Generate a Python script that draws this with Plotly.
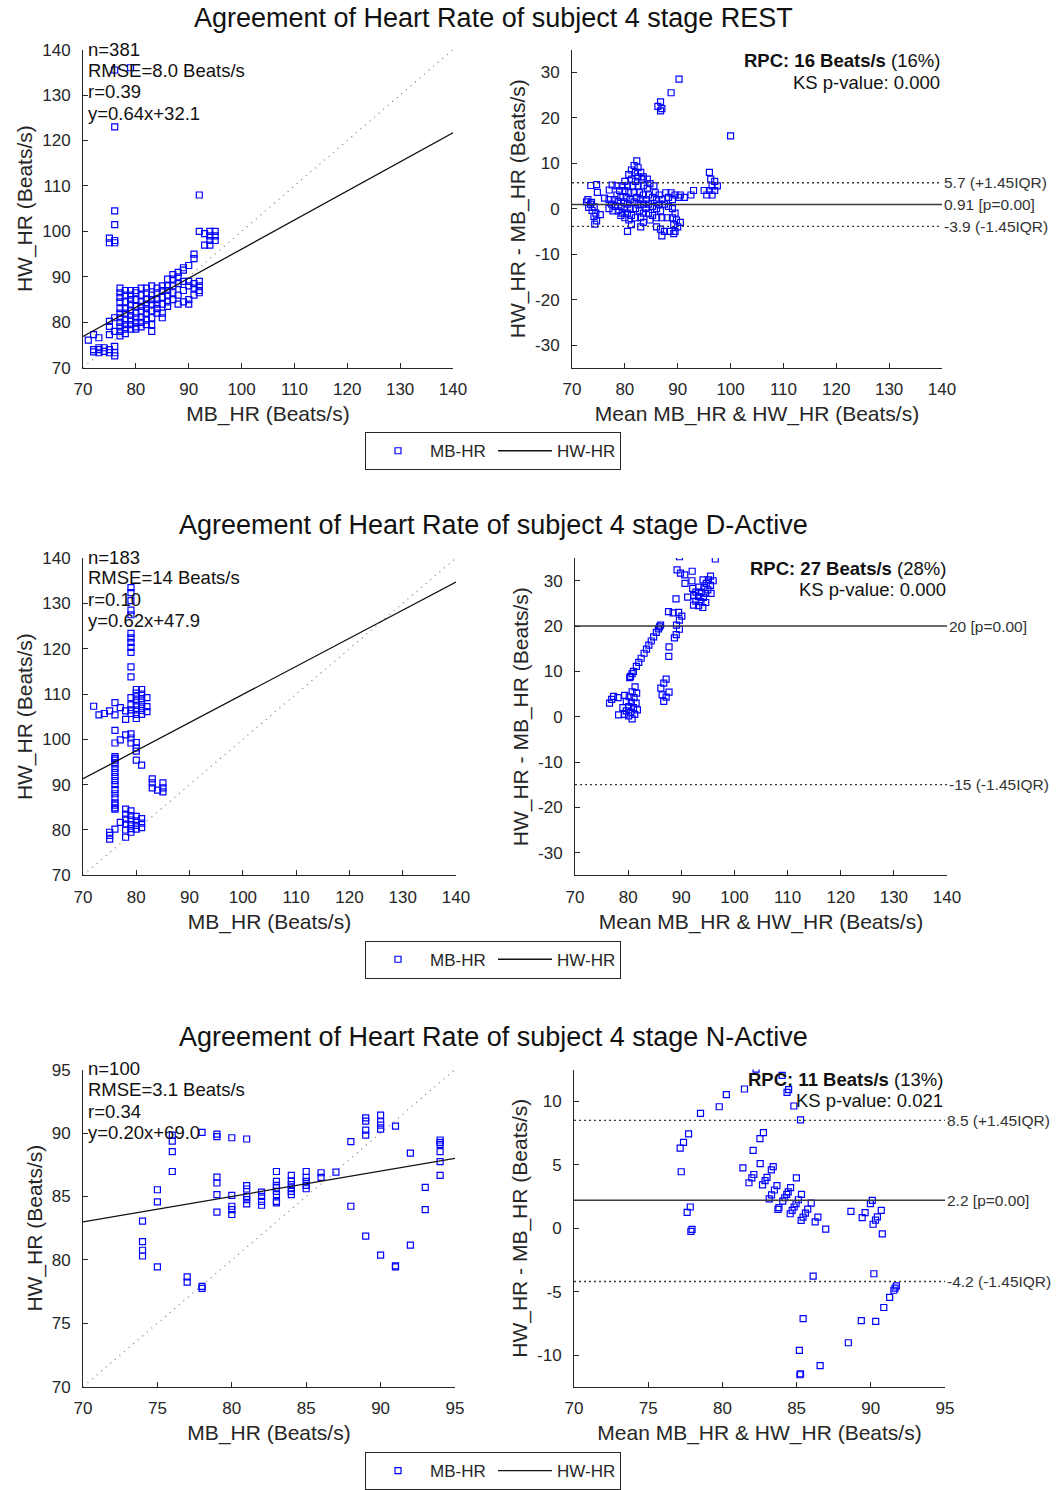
import numpy as np
import plotly.graph_objects as go

W, H = 1061, 1490

stages = ["REST", "D-Active", "N-Active"]

# ---------------- REST (MB_HR, HW_HR) ----------------
rest_mb = [
    71,
    72, 72, 72,
    73, 73, 73, 73,
    74, 74,
    75, 75, 75, 75, 75, 75, 75,
    76, 76, 76, 76, 76, 76, 76, 76, 76, 76, 76,
    77, 77, 77, 77, 77, 77, 77, 77, 77, 77, 77,
    78, 78, 78, 78, 78, 78, 78, 78, 78,
    79, 79, 79, 79, 79, 79, 79, 79, 79, 79,
    80, 80, 80, 80, 80, 80, 80, 80, 80,
    81, 81, 81, 81, 81, 81, 81, 81,
    82, 82, 82, 82, 82, 82, 82, 82,
    83, 83, 83, 83, 83, 83, 83, 83,
    84, 84, 84, 84, 84, 84,
    85, 85, 85, 85, 85, 85,
    86, 86, 86, 86, 86, 86,
    87, 87, 87, 87, 87,
    88, 88, 88, 88, 88,
    89, 89, 89, 89, 89,
    90, 90, 90, 90, 90,
    91, 91, 91, 91, 91,
    92, 92, 92, 92, 92, 92,
    93, 93,
    94, 94, 94, 94,
    95, 95, 95,
]
rest_hw = [
    76.1,
    77.3, 74.0, 73.5,
    76.6, 74.4, 73.3, 74.0,
    74.4, 73.6,
    80.2, 79.1, 77.3, 74.0, 73.3, 97.5, 98.5,
    81.0, 78.0, 74.7, 73.3, 72.6, 97.5, 98.0, 101.5, 104.5, 123.0, 135.5,
    87.5, 86.5, 85.5, 84.5, 83.0, 82.0, 81.0, 80.0, 79.0, 78.0, 77.0,
    87.0, 86.0, 84.5, 83.0, 82.0, 80.5, 79.5, 78.5, 77.5,
    136.0, 87.0, 86.0, 85.0, 84.0, 82.5, 81.5, 80.5, 79.5, 78.5,
    87.0, 86.5, 85.0, 83.5, 82.0, 81.0, 80.0, 79.0, 78.5,
    87.5, 86.0, 84.5, 83.5, 82.5, 81.0, 80.0, 79.0,
    87.5, 86.5, 85.0, 84.0, 83.0, 82.0, 80.5, 79.5,
    88.0, 86.0, 85.0, 84.0, 82.5, 81.0, 79.5, 78.0,
    87.5, 86.5, 85.0, 84.0, 83.0, 82.0,
    88.0, 87.0, 85.5, 84.0, 82.0, 81.0,
    89.5, 88.0, 87.0, 86.0, 84.5, 83.5,
    90.5, 89.5, 88.0, 86.5, 85.0,
    91.0, 90.0, 88.5, 86.0, 84.0,
    92.0, 91.5, 89.0, 87.0, 84.5,
    92.5, 89.0, 88.0, 85.0, 84.0,
    95.0, 94.0, 88.5, 87.5, 86.0,
    108.0, 100.0, 89.0, 88.0, 87.0, 86.5,
    99.5, 97.0,
    100.0, 99.0, 98.0, 97.0,
    100.0, 99.0, 98.0,
]

# ---------------- D-Active ----------------
dact_mb = [
    72,
    73,
    74,
    75, 75, 75, 75,
    76, 76, 76, 76, 76, 76, 76, 76, 76, 76, 76, 76, 76, 76, 76, 76, 76, 76, 76, 76, 76,
    77, 77, 77,
    78, 78, 78, 78, 78, 78, 78, 78, 78,
    79, 79, 79, 79, 79, 79, 79, 79, 79, 79, 79, 79, 79, 79, 79, 79, 79, 79, 79, 79, 79, 79, 79, 79, 79,
    80, 80, 80, 80, 80, 80, 80, 80, 80, 80, 80, 80, 80, 80, 80, 80,
    81, 81, 81, 81, 81, 81, 81, 81, 81, 81, 81,
    82, 82, 82,
    83, 83, 83,
    84,
    85, 85, 85,
]
dact_hw = [
    107.3,
    105.4,
    105.7,
    106.3, 79.5, 78.8, 78.0,
    108.1, 105.4, 102.0, 99.2, 96.2, 95.8, 95.4, 94.6, 93.6, 92.7, 91.8, 90.9, 90.0, 88.9, 88.0, 87.1, 86.0, 85.5, 84.9, 84.6, 80.2,
    107.0, 99.9, 81.7,
    106.3, 104.4, 101.0, 84.6, 83.5, 82.4, 81.3, 80.0, 78.4,
    133.5, 132.4, 130.6, 128.5, 127.5, 123.4, 122.4, 121.4, 120.3, 119.2, 116.0, 113.8, 109.2, 107.6, 106.5, 105.7, 101.2, 100.3, 99.2, 84.2, 83.2, 82.2, 81.2, 80.3, 79.5,
    111.0, 110.2, 109.4, 108.5, 107.5, 106.5, 105.5, 104.6, 99.3, 98.1, 97.4, 95.4, 83.0, 82.0, 81.0, 80.2,
    111.0, 110.0, 109.0, 108.2, 107.3, 106.4, 105.5, 94.3, 82.5, 81.5, 80.5,
    109.2, 107.2, 106.1,
    91.3, 90.4, 89.3,
    88.8,
    90.4, 89.3, 88.4,
]

# ---------------- N-Active ----------------
nact_mb = [
    74, 74, 74, 74,
    75, 75, 75,
    76, 76, 76, 76,
    77, 77,
    78, 78, 78,
    79, 79, 79, 79, 79, 79,
    80, 80, 80, 80, 80,
    81, 81, 81, 81, 81, 81,
    82, 82, 82, 82,
    83, 83, 83, 83, 83, 83, 83, 83,
    84, 84, 84, 84, 84, 84,
    85, 85, 85, 85, 85,
    86, 86,
    87,
    88, 88,
    89, 89, 89, 89, 89,
    90, 90, 90, 90, 90,
    91, 91, 91,
    92, 92,
    93, 93,
    94, 94, 94, 94, 94, 94,
]
nact_hw = [
    83.05, 81.44, 80.76, 80.31,
    85.53, 84.57, 79.45,
    89.84, 89.37, 88.54, 86.97,
    78.67, 78.25,
    90.05, 77.91, 77.75,
    89.92, 89.71, 86.53, 86.06, 85.14, 83.76,
    89.63, 85.09, 84.23, 83.97, 83.58,
    89.53, 85.85, 85.59, 85.01, 84.75, 84.41,
    85.35, 85.01, 84.62, 84.31,
    86.97, 86.19, 85.87, 85.67, 85.40, 85.14, 84.62, 84.49,
    86.66, 86.24, 85.93, 85.67, 85.40, 85.14,
    86.97, 86.50, 86.19, 85.87, 85.61,
    86.87, 86.50,
    86.92,
    89.32, 84.23,
    91.20, 90.94, 90.23, 89.84, 81.88,
    91.41, 90.89, 90.63, 90.31, 80.37,
    90.55, 79.53, 79.45,
    88.41, 81.17,
    85.72, 83.97,
    89.45, 89.27, 89.11, 88.54, 87.75, 86.66,
]

# summary statistics as printed on the chart
n_vals = [381, 183, 100]
rmse_txt = ["8.0", "14", "3.1"]
r_txt = ["0.39", "0.10", "0.34"]
reg_slope = [0.64, 0.62, 0.20]
reg_icpt = [32.1, 47.9, 69.0]
rpc_txt = ["16", "27", "11"]
rpc_pct = ["16%", "28%", "13%"]
ks_txt = ["0.000", "0.000", "0.021"]
ba_mean = [0.91, 20, 2.2]
ba_mean_txt = ["0.91", "20", "2.2"]
ba_upper = [5.7, None, 8.5]
ba_upper_txt = ["5.7", None, "8.5"]
ba_lower = [-3.9, -15, -4.2]
ba_lower_txt = ["-3.9", "-15", "-4.2"]

# axis limits and ticks
sc_range = [[70, 140], [70, 140], [70, 95]]
sc_ticks = [[70, 80, 90, 100, 110, 120, 130, 140],
            [70, 80, 90, 100, 110, 120, 130, 140],
            [70, 75, 80, 85, 90, 95]]
ba_yrange = [[-35, 35], [-35, 35], [-12.5, 12.5]]
ba_yticks = [[-30, -20, -10, 0, 10, 20, 30],
             [-30, -20, -10, 0, 10, 20, 30],
             [-10, -5, 0, 5, 10]]

data_mb = [rest_mb, dact_mb, nact_mb]
data_hw = [rest_hw, dact_hw, nact_hw]

# ---------------- layout geometry (pixels) ----------------
sc_x_px = [(83, 453), (83, 456), (83, 455)]
ba_x_px = [(572, 942), (575, 947), (574, 945)]
row_y_px = [(50, 371), (563, 883), (1079, 1399)]
title_y_px = [18, 530, 1046]
legend_y_px = [438, 951, 1467]
stat_y_px = [[50, 71, 92, 114], [562, 583, 605, 626], [1078, 1099, 1121, 1142]]
ba_txt_y_px = [[61, 83], [573, 595], [1089, 1110]]
ba_txt_right_px = [940, 946, 943]

FONT = "Liberation Sans, Arial, Helvetica, sans-serif"
AX = "#262626"
BLUE = "#0000FF"


def px_x(p):
    return p / W


def px_y(p):
    return 1 - p / H


fig = go.Figure()
annotations = []
layout_axes = {}

axis_common = dict(
    showline=True, linecolor=AX, linewidth=1, mirror=False,
    ticks="inside", ticklen=5, tickcolor=AX, tickwidth=1,
    showgrid=False, zeroline=False, automargin=False,
    tickfont=dict(family=FONT, size=17, color=AX),
    title_font=dict(family=FONT, size=21, color=AX),
)

for i in range(3):
    sx = 2 * i + 1
    bx = 2 * i + 2
    xs = "x" if sx == 1 else f"x{sx}"
    ys = "y" if sx == 1 else f"y{sx}"
    xb = f"x{bx}"
    yb = f"y{bx}"
    leg = "legend" if i == 0 else f"legend{i + 1}"

    mb = np.array(data_mb[i], dtype=float)
    hw = np.array(data_hw[i], dtype=float)
    lo, hi = sc_range[i]

    # identity line
    fig.add_trace(go.Scatter(x=[lo, hi], y=[lo, hi], mode="lines",
                             line=dict(color="#7a7a7a", width=1.2, dash="1px,5px"),
                             xaxis=xs, yaxis=ys, showlegend=False, hoverinfo="skip"))
    # scatter points
    fig.add_trace(go.Scatter(x=mb, y=hw, mode="markers", name="MB-HR",
                             marker=dict(symbol="square-open", size=6, color=BLUE,
                                         line=dict(width=1.2, color=BLUE)),
                             xaxis=xs, yaxis=ys, legend=leg, showlegend=True))
    # regression line
    reg_x = np.array([lo, hi], dtype=float)
    fig.add_trace(go.Scatter(x=reg_x, y=reg_slope[i] * reg_x + reg_icpt[i], mode="lines",
                             name="HW-HR", line=dict(color="#111111", width=1.3),
                             xaxis=xs, yaxis=ys, legend=leg, showlegend=True))

    # Bland-Altman
    mean_v = (mb + hw) / 2
    diff_v = hw - mb
    fig.add_trace(go.Scatter(x=mean_v, y=diff_v, mode="markers",
                             marker=dict(symbol="square-open", size=6, color=BLUE,
                                         line=dict(width=1.2, color=BLUE)),
                             xaxis=xb, yaxis=yb, showlegend=False))
    fig.add_trace(go.Scatter(x=[lo, hi], y=[ba_mean[i], ba_mean[i]], mode="lines",
                             line=dict(color="#3a3a3a", width=1.4),
                             xaxis=xb, yaxis=yb, showlegend=False, hoverinfo="skip"))
    annotations.append(dict(xref=xb, yref=yb, x=hi, y=ba_mean[i], xanchor="left", yanchor="middle",
                            text=f"{ba_mean_txt[i]} [p=0.00]", showarrow=False,
                            font=dict(family=FONT, size=15.5, color="#333333")))
    for val, txt, lab in [(ba_upper[i], ba_upper_txt[i], "(+1.45IQR)"),
                          (ba_lower[i], ba_lower_txt[i], "(-1.45IQR)")]:
        if val is None:
            continue
        fig.add_trace(go.Scatter(x=[lo, hi], y=[val, val], mode="lines",
                                 line=dict(color="#3a3a3a", width=1.4, dash="2px,3px"),
                                 xaxis=xb, yaxis=yb, showlegend=False, hoverinfo="skip"))
        annotations.append(dict(xref=xb, yref=yb, x=hi, y=val, xanchor="left", yanchor="middle",
                                text=f"{txt} {lab}", showarrow=False,
                                font=dict(family=FONT, size=15.5, color="#333333")))

    # axes
    ydom = [px_y(row_y_px[i][1]), px_y(row_y_px[i][0])]
    xkey_s = "xaxis" if sx == 1 else f"xaxis{sx}"
    ykey_s = "yaxis" if sx == 1 else f"yaxis{sx}"
    layout_axes[xkey_s] = dict(axis_common, domain=[px_x(sc_x_px[i][0]), px_x(sc_x_px[i][1])],
                               range=sc_range[i], anchor=ys, tickvals=sc_ticks[i],
                               ticktext=[str(t) for t in sc_ticks[i]], ticklabelstandoff=6,
                               title=dict(text="MB_HR (Beats/s)", standoff=8))
    layout_axes[ykey_s] = dict(axis_common, domain=ydom, range=sc_range[i], anchor=xs,
                               tickvals=sc_ticks[i], ticktext=[str(t) for t in sc_ticks[i]],
                               ticklabelstandoff=8,
                               title=dict(text="HW_HR (Beats/s)", standoff=3))
    layout_axes[f"xaxis{bx}"] = dict(axis_common, domain=[px_x(ba_x_px[i][0]), px_x(ba_x_px[i][1])],
                                     range=sc_range[i], anchor=yb, tickvals=sc_ticks[i],
                                     ticktext=[str(t) for t in sc_ticks[i]], ticklabelstandoff=6,
                                     title=dict(text="Mean MB_HR & HW_HR (Beats/s)", standoff=8))
    layout_axes[f"yaxis{bx}"] = dict(axis_common, domain=ydom, range=ba_yrange[i], anchor=xb,
                                     tickvals=ba_yticks[i], ticktext=[str(t) for t in ba_yticks[i]],
                                     ticklabelstandoff=8,
                                     title=dict(text="HW_HR - MB_HR (Beats/s)", standoff=3))

    # titles
    annotations.append(dict(xref="paper", yref="paper", x=px_x(493), y=px_y(title_y_px[i]),
                            xanchor="center", yanchor="middle", showarrow=False,
                            text=f"Agreement of Heart Rate of subject 4 stage {stages[i]}",
                            font=dict(family=FONT, size=27, color="#111111")))
    # stats text (scatter)
    stat_lines = [f"n={n_vals[i]}", f"RMSE={rmse_txt[i]} Beats/s", f"r={r_txt[i]}",
                  f"y={reg_slope[i]:.2f}x+{reg_icpt[i]:.1f}"]
    for t, yp in zip(stat_lines, stat_y_px[i]):
        annotations.append(dict(xref="paper", yref="paper", x=px_x(86), y=px_y(yp),
                                xanchor="left", yanchor="middle", showarrow=False, text=t,
                                font=dict(family=FONT, size=18.5, color="#111111")))
    # stats text (BA)
    annotations.append(dict(xref="paper", yref="paper", x=px_x(ba_txt_right_px[i] + 2), y=px_y(ba_txt_y_px[i][0]),
                            xanchor="right", yanchor="middle", showarrow=False,
                            text=f"<b>RPC: {rpc_txt[i]} Beats/s</b> ({rpc_pct[i]})",
                            font=dict(family=FONT, size=18.5, color="#111111")))
    annotations.append(dict(xref="paper", yref="paper", x=px_x(ba_txt_right_px[i] + 2), y=px_y(ba_txt_y_px[i][1]),
                            xanchor="right", yanchor="middle", showarrow=False,
                            text=f"KS p-value: {ks_txt[i]}",
                            font=dict(family=FONT, size=18.5, color="#111111")))

    # legend
    layout_axes[leg] = dict(orientation="h", x=px_x(493), xanchor="center",
                            y=px_y(legend_y_px[i] - 2), yanchor="top",
                            bordercolor=AX, borderwidth=1, bgcolor="white",
                            font=dict(family=FONT, size=17, color=AX),
                            itemwidth=54, tracegroupgap=0, entrywidth=58)

fig.update_layout(
    width=W, height=H,
    margin=dict(l=0, r=0, t=0, b=0),
    paper_bgcolor="white", plot_bgcolor="white",
    annotations=annotations,
    **layout_axes,
)

fig.write_html("out.html")
